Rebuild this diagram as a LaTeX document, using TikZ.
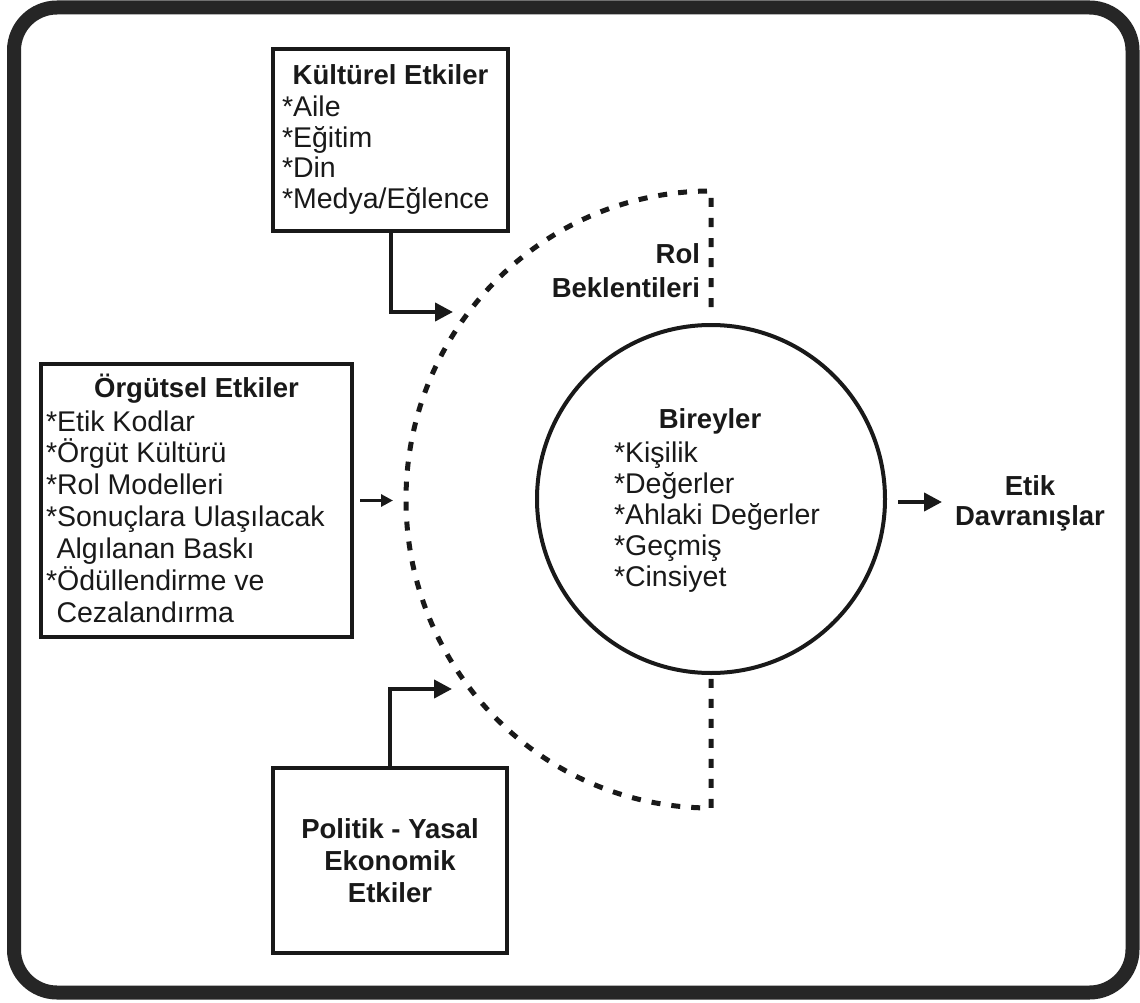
\documentclass[tikz,border=0pt]{standalone}
\usepackage{fontspec}
\setmainfont{Liberation Sans}
\usetikzlibrary{arrows.meta}
\begin{document}
\begin{tikzpicture}[x=1pt,y=-1pt,
  every node/.style={inner sep=0pt, outer sep=0pt, text=black!90,
    font=\fontsize{28.5}{32}\selectfont},
  frame/.style={line width=14pt, draw=black!85, rounded corners=43pt},
  box/.style={draw=black!90, line width=4pt, rectangle, anchor=north west},
  ttl/.style={font=\fontsize{27.5}{32}\selectfont\bfseries},
  item/.style={anchor=base west},
  conn/.style={line width=4pt, draw=black!90, -{Triangle[length=18pt,width=18pt]}},
  connS/.style={line width=3.5pt, draw=black!90, -{Triangle[length=12pt,width=12pt]}},
  dashedarc/.style={line width=5pt, draw=black!90, dash pattern=on 9pt off 11pt},
]
\useasboundingbox (0,0) rectangle (1140,1003);
\fill[white] (0,0) rectangle (1140,1003);
\draw[frame] (14,7.5) rectangle (1132.5,992.5);

% Kültürel Etkiler
\node[box, minimum width=235pt, minimum height=182pt] (kul) at (273,49) {};
\node[ttl, anchor=base] (kulT) at (390.5,85) {Kültürel Etkiler};
\foreach \t [count=\i] in {*Aile,*Eğitim,*Din,*Medya/Eğlence}
  \node[item] (kul-\i) at (282,{117+30.5*(\i-1)}) {\t};

% Örgütsel Etkiler
\node[box, minimum width=311pt, minimum height=273pt] (org) at (41,364) {};
\node[ttl, anchor=base] (orgT) at (196.5,397) {Örgütsel Etkiler};
\node[item] (org-1) at (46,431) {*Etik Kodlar};
\node[item] (org-2) at (46,462) {*Örgüt Kültürü};
\node[item] (org-3) at (46,494) {*Rol Modelleri};
\node[item] (org-4) at (46,526) {*Sonuçlara Ulaşılacak};
\node[item] (org-5) at (56.5,558) {Algılanan Baskı};
\node[item] (org-6) at (46,590) {*Ödüllendirme ve};
\node[item] (org-7) at (56.5,622) {Cezalandırma};

% Politik - Yasal Ekonomik Etkiler
\node[box, minimum width=234pt, minimum height=185pt] (pol) at (273,768) {};
\foreach \t [count=\i] in {Politik - Yasal,Ekonomik,Etkiler}
  \node[ttl, anchor=base] (pol-\i) at (390,{838+32*(\i-1)}) {\t};

% Bireyler
\node[draw=black!90, circle, line width=4pt, minimum size=348pt] (ind) at (711,499) {};
\node[ttl, anchor=base] (indT) at (710,428) {Bireyler};
\foreach \t [count=\i] in {*Kişilik,*Değerler,*Ahlaki Değerler,*Geçmiş,*Cinsiyet}
  \node[item] (ind-\i) at (614,{462+31*(\i-1)}) {\t};

% Rol beklentileri (dashed boundary)
\draw[dashedarc] (711,307) -- (711,191)
  arc[start angle=270, end angle=90, x radius=305, y radius=308.5] -- (ind.south);
\node[ttl, anchor=base east] (rol-1) at (700,263) {Rol};
\node[ttl, anchor=base east] (rol-2) at (700,297) {Beklentileri};

% Etik Davranışlar
\node[ttl, anchor=base] (etk-1) at (1030,495) {Etik};
\node[ttl, anchor=base] (etk-2) at (1030,525) {Davranışlar};

% Connectors
\coordinate (kultip) at (453,312);
\coordinate (poltip) at (452,689);
\coordinate (orgtip) at (393,500.5);
\coordinate (etiktip) at (942,502);
\draw[conn] (kul.south) |- (kultip);
\draw[conn] (pol.north) |- (poltip);
\draw[connS, shorten <=8pt] (org.east) -- (orgtip);
\draw[conn, shorten <=13pt] (ind.east |- etiktip) -- (etiktip);
\end{tikzpicture}
\end{document}
